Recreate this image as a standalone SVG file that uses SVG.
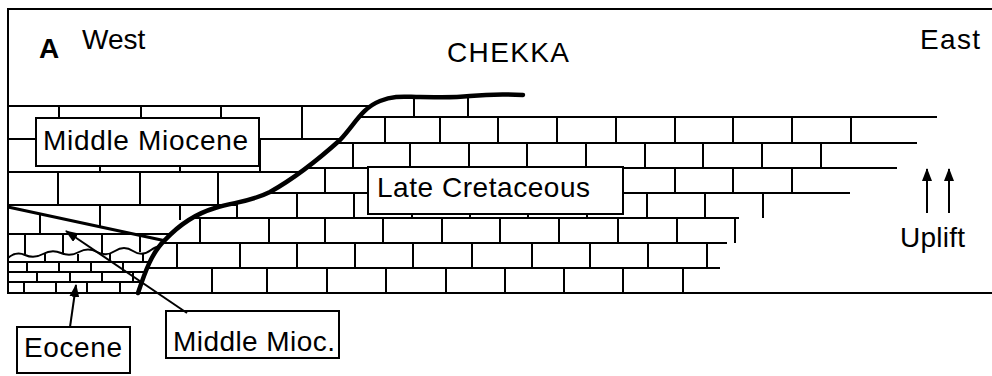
<svg xmlns="http://www.w3.org/2000/svg" width="992" height="376" viewBox="0 0 992 376">
  <style>
    .bed { fill: none; stroke: #000; stroke-width: 2; }
    .fault { fill: none; stroke: #000; stroke-width: 4.5; stroke-linecap: round; }
    .box { fill: #fff; stroke: #000; stroke-width: 2; }
    .lbl { font-family: "Liberation Sans", Arial, sans-serif; font-size: 28px; fill: #000; }
    .conn { fill: none; stroke: #000; stroke-width: 2; }
  </style>
  <defs>
    <marker id="arrowhead" markerUnits="userSpaceOnUse" markerWidth="13" markerHeight="10" refX="12" refY="5" orient="auto">
      <path d="M0,0 L13,5 L0,10 Z" fill="#000"/>
    </marker>
    <!-- area east of the fault trace -->
    <clipPath id="east-of-fault">
      <path d="M138,293 C145,272 152,252 165,240 C178,226 195,214 215,208 C235,202 250,202 270,192 C295,178 320,158 340,140 C355,124 362,108 380,101 C395,95 405,97 420,97 C440,97 450,98 470,96 C490,94 505,94 523,95 L523,0 L992,0 L992,300 L130,300 Z"/>
    </clipPath>
    <!-- area west of the fault trace -->
    <clipPath id="west-of-fault">
      <path d="M0,0 L380,0 L380,101 C362,108 355,124 340,140 C320,158 295,178 270,192 C250,202 235,202 215,208 C195,214 178,226 165,240 C152,252 145,272 138,293 L138,300 L0,300 Z"/>
    </clipPath>
  </defs>

  <rect width="992" height="376" fill="#fff"/>

  <!-- section frame -->
  <g id="frame">
    <path class="bed" d="M992,9 H8 V293 H992"/>
  </g>

  <!-- Late Cretaceous limestone, thin beds -->
  <g id="late-cretaceous-beds" clip-path="url(#east-of-fault)">
    <path class="bed" d="M130,117H937 M130,143H917 M130,168H897 M130,193H850 M130,218H739 M130,243H727 M130,268H720"/>
    <path class="bed" d="M414,90V117 M468,90V117
      M385,117V143 M440,117V143 M498,117V143 M557,117V143 M616,117V143 M675,117V143 M733,117V143 M792,117V143 M851,117V143
      M353,143V168 M410,143V168 M469,143V168 M527,143V168 M586,143V168 M645,143V168 M703,143V168 M762,143V168 M821,143V168
      M325,168V193 M381,168V193 M440,168V193 M499,168V193 M557,168V193 M616,168V193 M675,168V193 M733,168V193 M792,168V193
      M237,193V218 M297,193V218 M354,193V218 M412,193V218 M470,193V218 M528,193V218 M587,193V218 M647,193V218 M705,193V218 M763,193V218
      M200,218V243 M269,218V243 M325,218V243 M383,218V243 M442,218V243 M500,218V243 M559,218V243 M618,218V243 M677,218V243 M735,218V243
      M177,243V268 M240,243V268 M297,243V268 M355,243V268 M413,243V268 M472,243V268 M532,243V268 M590,243V268 M648,243V268 M707,243V268
      M212,268V293 M267,268V293 M327,268V293 M386,268V293 M446,268V293 M505,268V293 M564,268V293 M623,268V293 M683,268V293"/>
  </g>

  <!-- Middle Miocene, thick beds west of the fault -->
  <g id="middle-miocene-beds">
    <g clip-path="url(#west-of-fault)">
      <path class="bed" d="M8,106H400 M8,139H400 M8,172H400"/>
      <path class="bed" d="M59,106V139 M141,106V139 M221,106V139 M302,106V139
        M100,139V172 M180,139V172 M260,139V172
        M58,172V205 M140,172V205 M218,172V205
        M100,205V228 M180,205V220"/>
    </g>
    <path class="bed" d="M8,205H237"/>
  </g>

  <!-- Middle Miocene wedge over the Eocene -->
  <g id="middle-mioc-wedge" clip-path="url(#west-of-fault)">
    <path class="bed" d="M40,214V234 M8,234H175"/>
    <path fill="none" stroke="#000" stroke-width="3" d="M8,207 L166,241"/>
  </g>

  <!-- Eocene, thin beds with eroded top -->
  <g id="eocene-beds" clip-path="url(#west-of-fault)">
    <path class="bed" d="M25,234V254 M63,234V253 M102,234V253 M140,234V252
      M45,254V262 M78,254V262 M110,254V262 M143,254V262
      M8,262H175 M8,272H175 M8,282H175
      M27,262V272 M59,262V272 M91,262V272 M123,262V272
      M37,272V282 M70,272V282 M102,272V282 M133,272V282
      M24,282V293 M56,282V293 M87,282V293 M120,282V293"/>
    <path class="bed" d="M8,258 Q16,251 25,255 T43,254 T61,253 T79,252 T97,252 T115,251 T133,251 T151,250 T169,249"/>
  </g>

  <!-- fault trace -->
  <g id="fault-trace">
    <path class="fault" d="M138,293 C145,272 152,252 165,240 C178,226 195,214 215,208 C235,202 250,202 270,192 C295,178 320,158 340,140 C355,124 362,108 380,101 C395,95 405,97 420,97 C440,97 450,98 470,96 C490,94 505,94 523,95"/>
  </g>

  <!-- headings -->
  <g id="headings">
    <text class="lbl" x="39" y="58" font-weight="bold" font-size="31">A</text>
    <text class="lbl" x="82" y="49">West</text>
    <text class="lbl" x="447" y="62" textLength="122">CHEKKA</text>
    <text class="lbl" x="920" y="49" textLength="60">East</text>
  </g>

  <g id="label-middle-miocene">
    <rect class="box" x="36" y="118" width="223" height="48"/>
    <text class="lbl" x="43" y="150" textLength="205">Middle Miocene</text>
  </g>

  <g id="label-late-cretaceous">
    <rect class="box" x="368" y="167" width="255" height="47"/>
    <text class="lbl" x="377" y="197" textLength="213">Late Cretaceous</text>
  </g>

  <g id="label-eocene">
    <rect class="box" x="17" y="327" width="113" height="46"/>
    <text class="lbl" x="24" y="357" textLength="98">Eocene</text>
  </g>

  <g id="label-middle-mioc">
    <rect class="box" x="166" y="311" width="173" height="47"/>
    <text class="lbl" x="173" y="351" textLength="162">Middle Mioc.</text>
  </g>

  <g id="uplift">
    <text class="lbl" x="900" y="247" textLength="65">Uplift</text>
  </g>

  <!-- connectors -->
  <g id="connectors">
    <path class="conn" d="M187,313 L66,231" marker-end="url(#arrowhead)"/>
    <path class="conn" d="M70,327 L76,285" marker-end="url(#arrowhead)"/>
    <path class="conn" d="M927,213 V169" marker-end="url(#arrowhead)"/>
    <path class="conn" d="M949,213 V169" marker-end="url(#arrowhead)"/>
  </g>
</svg>
